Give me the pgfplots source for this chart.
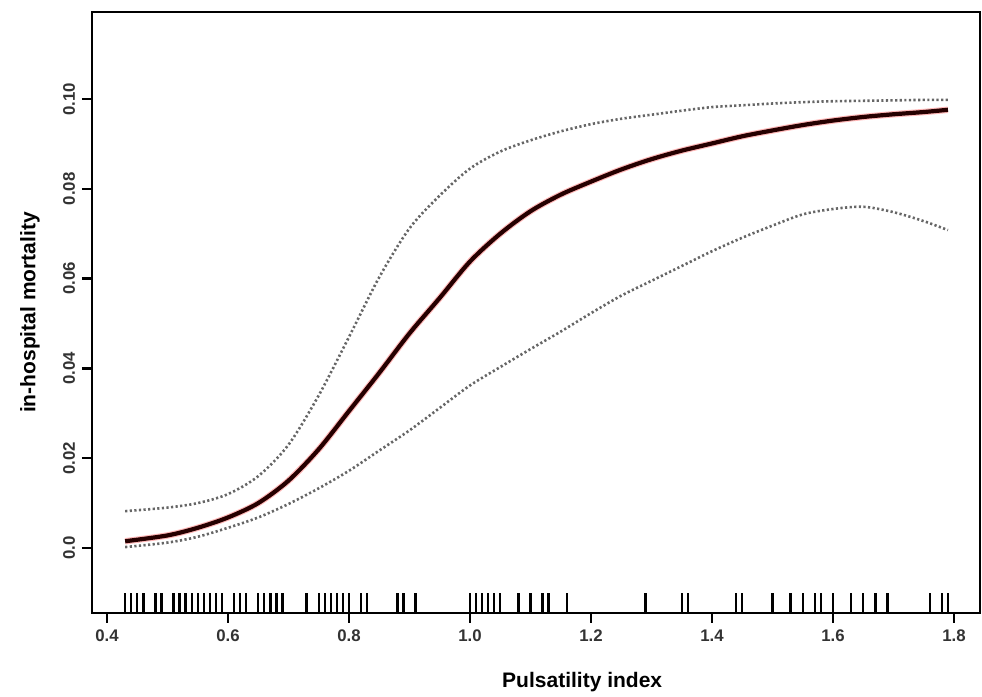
\documentclass[border=0pt]{standalone}
\usepackage{pgfplots}
\pgfplotsset{compat=1.18}
\usepackage{pgfplotstable}
\usepackage{fontspec}
\setmainfont{Liberation Sans}

% fitted curve with lower and upper bounds
\pgfplotstableread{
x     fit     lo      hi
0.43  0.0015  0.0002  0.0082
0.50  0.0028  0.0012  0.0090
0.55  0.0045  0.0025  0.0100
0.60  0.0068  0.0045  0.0120
0.65  0.0100  0.0068  0.0160
0.70  0.0150  0.0098  0.0230
0.75  0.0220  0.0133  0.0340
0.80  0.0305  0.0172  0.0470
0.85  0.0390  0.0217  0.0603
0.90  0.0478  0.0262  0.0712
0.95  0.0557  0.0312  0.0785
1.00  0.0638  0.0362  0.0845
1.05  0.0700  0.0403  0.0883
1.10  0.0750  0.0443  0.0908
1.15  0.0787  0.0482  0.0928
1.20  0.0816  0.0523  0.0944
1.25  0.0843  0.0562  0.0956
1.30  0.0866  0.0595  0.0965
1.35  0.0885  0.0628  0.0974
1.40  0.0901  0.0661  0.0982
1.45  0.0917  0.0691  0.0986
1.50  0.0930  0.0718  0.0990
1.55  0.0942  0.0743  0.0993
1.60  0.0952  0.0755  0.0995
1.65  0.0960  0.0760  0.0996
1.70  0.0966  0.0748  0.0997
1.75  0.0971  0.0728  0.0998
1.79  0.0976  0.0708  0.0998
}\curves

% observed values (rug), drawn up from the bottom of the frame
\pgfplotstableread{
x     base
0.43  -0.01448
0.44  -0.01448
0.45  -0.01448
0.46  -0.01448
0.48  -0.01448
0.49  -0.01448
0.51  -0.01448
0.52  -0.01448
0.53  -0.01448
0.54  -0.01448
0.55  -0.01448
0.56  -0.01448
0.57  -0.01448
0.58  -0.01448
0.59  -0.01448
0.61  -0.01448
0.62  -0.01448
0.63  -0.01448
0.65  -0.01448
0.66  -0.01448
0.67  -0.01448
0.68  -0.01448
0.69  -0.01448
0.73  -0.01448
0.75  -0.01448
0.76  -0.01448
0.77  -0.01448
0.78  -0.01448
0.79  -0.01448
0.80  -0.01448
0.82  -0.01448
0.83  -0.01448
0.88  -0.01448
0.89  -0.01448
0.91  -0.01448
1.00  -0.01448
1.01  -0.01448
1.02  -0.01448
1.03  -0.01448
1.04  -0.01448
1.05  -0.01448
1.08  -0.01448
1.10  -0.01448
1.12  -0.01448
1.13  -0.01448
1.16  -0.01448
1.29  -0.01448
1.35  -0.01448
1.36  -0.01448
1.44  -0.01448
1.45  -0.01448
1.50  -0.01448
1.53  -0.01448
1.55  -0.01448
1.57  -0.01448
1.58  -0.01448
1.60  -0.01448
1.63  -0.01448
1.65  -0.01448
1.67  -0.01448
1.69  -0.01448
1.76  -0.01448
1.78  -0.01448
1.79  -0.01448
}\rug

\begin{document}
\begin{tikzpicture}
\begin{axis}[
    scale only axis,
    width=444pt, height=300.5pt,
    xmin=0.3752, xmax=1.843,
    ymin=-0.01448, ymax=0.11938,
    axis line style={line width=1.2pt},
    tick align=outside,
    major tick length=5pt,
    tick style={line width=1.2pt, black},
    xtick pos=left, ytick pos=left,
    xtick={0.4,0.6,0.8,1.0,1.2,1.4,1.6,1.8},
    xticklabels={0.4,0.6,0.8,1.0,1.2,1.4,1.6,1.8},
    ytick={0,0.02,0.04,0.06,0.08,0.1},
    yticklabels={0.0,0.02,0.04,0.06,0.08,0.10},
    scaled ticks=false,
    tick label style={font=\fontsize{8.4}{10}\selectfont\bfseries, text=black!80},
    yticklabel style={rotate=90, anchor=south},
    xlabel={Pulsatility index},
    ylabel={in-hospital mortality},
    label style={font=\fontsize{10.5}{12}\selectfont\bfseries},
    xlabel style={at={(axis description cs:0.552,-0.1148)}, anchor=center},
    ylabel style={at={(axis description cs:-0.0698,0.5)}, anchor=center},
]
\coordinate (bl) at (rel axis cs:0,0);
\coordinate (tr) at (rel axis cs:1,1);

\addplot[black!60, line width=1.3pt, dash pattern=on 1.1pt off 1.2pt, smooth] table[x=x, y=hi] {\curves};
\addplot[black!60, line width=1.3pt, dash pattern=on 1.1pt off 1.2pt, smooth] table[x=x, y=lo] {\curves};
\addplot[red!55, opacity=0.5, line width=3.2pt, smooth] table[x=x, y=fit] {\curves};
\addplot[black!85!red, line width=2.1pt, smooth] table[x=x, y=fit] {\curves};

\addplot[black, line width=1.2pt, quiver={u=0, v=0.00445}, -] table[x=x, y=base] {\rug};
\end{axis}
\pgfresetboundingbox
\path ([shift={(-46pt,-42pt)}]bl) rectangle ([shift={(1pt,6pt)}]tr);
\end{tikzpicture}
\end{document}
